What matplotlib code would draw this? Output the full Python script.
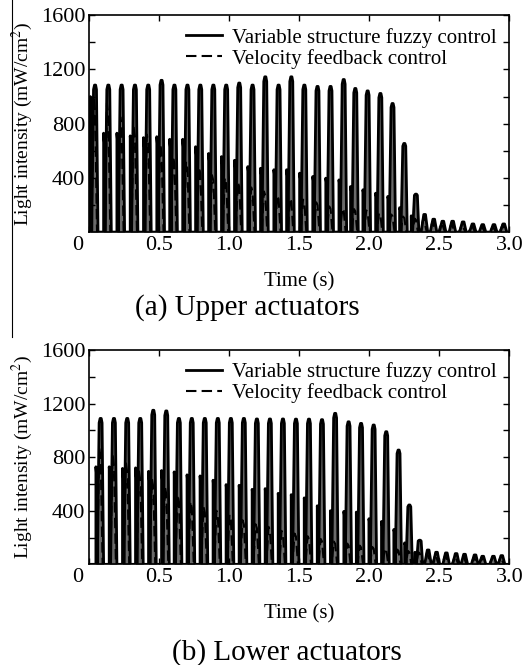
import matplotlib
matplotlib.use("Agg")
import matplotlib.pyplot as plt
import matplotlib.transforms as mtransforms
import numpy as np

plt.rcParams["font.family"] = ["Liberation Serif", "DejaVu Serif"]
plt.rcParams["mathtext.fontset"] = "stix"

# ---- values ----
# (a) upper actuators: one entry per pulse
up_t = [0.041, 0.136, 0.231, 0.326, 0.421, 0.516, 0.608, 0.701, 0.793, 0.886,
        0.978, 1.071, 1.166, 1.257, 1.352, 1.443, 1.536, 1.630, 1.723, 1.817,
        1.900, 1.988, 2.079, 2.166, 2.250, 2.333]
up_fuzzy = [1085, 1085, 1085, 1085, 1085, 1120, 1085, 1085, 1085, 1085,
            1085, 1100, 1085, 1146, 1085, 1146, 1085, 1075, 1075, 1126,
            1060, 1042, 1023, 949, 654, 280]
up_step = [1000, 730, 730, 710, 697, 704, 685, 685, 630, 580,
           557, 530, 483, 471, 460, 460, 435, 410, 398, 385,
           336, 312, 287, 263, 180, 120]
up_velo = [1000, 950, 850, 780, 720, 650, 560, 520, 480, 420,
           400, 370, 330, 300, 270, 250, 240, 220, 190, 175,
           170, 160, 140, 130, 115, 100]
up_tail_t = [2.395, 2.460, 2.525, 2.595, 2.670, 2.740, 2.810, 2.890, 2.960]
up_tail_fuzzy = [130, 95, 80, 80, 75, 60, 55, 55, 60]
up_tail_velo = [110, 80, 70, 65, 60, 50, 45, 40, 55]

# (b) lower actuators
lo_t = [0.081, 0.176, 0.271, 0.364, 0.457, 0.550, 0.640, 0.732, 0.825, 0.918,
        1.011, 1.104, 1.197, 1.290, 1.383, 1.476, 1.569, 1.662, 1.756, 1.852,
        1.941, 2.031, 2.121, 2.209, 2.286, 2.360]
lo_fuzzy = [1089, 1089, 1089, 1089, 1150, 1145, 1089, 1089, 1089, 1089,
            1089, 1089, 1085, 1085, 1085, 1084, 1084, 1080, 1127, 1064,
            1052, 1040, 990, 853, 443, 180]
lo_step = [728, 728, 716, 720, 694, 700, 690, 668, 660, 628,
           595, 590, 560, 565, 530, 520, 496, 437, 400, 395,
           390, 340, 320, 260, 160, 90]
lo_velo = [870, 820, 760, 700, 640, 580, 520, 470, 430, 400,
           370, 330, 300, 280, 250, 230, 210, 190, 170, 155,
           140, 130, 120, 110, 100, 90]
lo_tail_t = [2.420, 2.480, 2.550, 2.620, 2.680, 2.755, 2.810, 2.886, 2.946]
lo_tail_fuzzy = [107, 90, 85, 80, 75, 70, 60, 60, 65]
lo_tail_velo = [90, 75, 70, 65, 60, 55, 50, 45, 55]


def traces(t, fz, st, vf, tt, tfz, tvf):
    # join the read pulse values into one polyline per controller
    xs, ys, xd, yd = [0.0], [0.0], [0.0], [0.0]
    for tp, p, s, d in zip(t, fz, st, vf):
        xs += [tp - 0.034, tp - 0.034, tp - 0.028, tp - 0.024, tp - 0.011,
               tp - 0.004, tp + 0.004, tp + 0.010, tp + 0.021]
        ys += [0, s, 0.9 * s, 0, 0.97 * p, p, p, 0.97 * p, 0]
        xd += [tp - 0.026, tp - 0.010, tp + 0.000, tp + 0.014]
        yd += [0, d, 0.9 * d, 0]
    for tp, p, d in zip(tt, tfz, tvf):
        xs += [tp - 0.025, tp - 0.006, tp + 0.006, tp + 0.022]
        ys += [0, p, p, 0]
        xd += [tp - 0.030, tp - 0.008, tp + 0.015]
        yd += [0, d, 0]
    xs.append(3.0); ys.append(0)
    xd.append(3.0); yd.append(0)
    return xs, ys, xd, yd


fig = plt.figure(figsize=(5.27, 6.65), dpi=100)
ax_top = fig.add_axes([0.1695, 0.651, 0.797, 0.326])
ax_bot = fig.add_axes([0.1695, 0.1514, 0.797, 0.3223])

panels = [
    (ax_top, traces(up_t, up_fuzzy, up_step, up_velo, up_tail_t, up_tail_fuzzy, up_tail_velo)),
    (ax_bot, traces(lo_t, lo_fuzzy, lo_step, lo_velo, lo_tail_t, lo_tail_fuzzy, lo_tail_velo)),
]
for ax, (xs, ys, xd, yd) in panels:
    ax.fill_between(xs, ys, color="#6a6a6a", lw=0)
    ax.plot(xs, ys, color="black", lw=2.0, label="Variable structure fuzzy control")
    ax.plot(xd, yd, color="black", lw=1.5, ls=(0, (5, 2.5)), label="Velocity feedback control")
    ax.set_xlim(0, 3.0)
    ax.set_ylim(0, 1600)
    ax.set_xticks([0, 0.5, 1.0, 1.5, 2.0, 2.5, 3.0])
    ax.set_xticklabels(["0", "0.5", "1.0", "1.5", "2.0", "2.5", "3.0"])
    ax.set_yticks(np.arange(200, 1601, 200))
    ax.set_yticklabels(["", "400", "", "800", "", "1200", "", "1600"])
    ax.tick_params(direction="in", top=True, right=True, length=4, width=1.0,
                   labelsize=16, pad=3)
    # the "0" sits left of the corner in the original
    lab0 = ax.get_xticklabels()[0]
    lab0.set_transform(lab0.get_transform() +
                       mtransforms.ScaledTranslation(-0.12, 0, fig.dpi_scale_trans))
    for sp in ax.spines.values():
        sp.set_linewidth(1.2)
    ax.set_xlabel("Time (s)", fontsize=15, labelpad=12)
    ax.set_ylabel("Light intensity (mW/cm$^2$)", fontsize=14, labelpad=4)
    ax.legend(loc="upper right", frameon=False, fontsize=15, handlelength=1.7,
              handletextpad=0.5, labelspacing=0.05, borderaxespad=0.2,
              bbox_to_anchor=(1.0, 1.0))

fig.text(0.469, 0.537, "(a) Upper actuators", ha="center", va="center", fontsize=21)
fig.text(0.544, 0.0195, "(b) Lower actuators", ha="center", va="center", fontsize=21)
fig.add_artist(plt.Line2D([0.0228, 0.0228], [1.0, 0.493], color="black", lw=0.8))

fig.savefig("out.png", dpi=100)
